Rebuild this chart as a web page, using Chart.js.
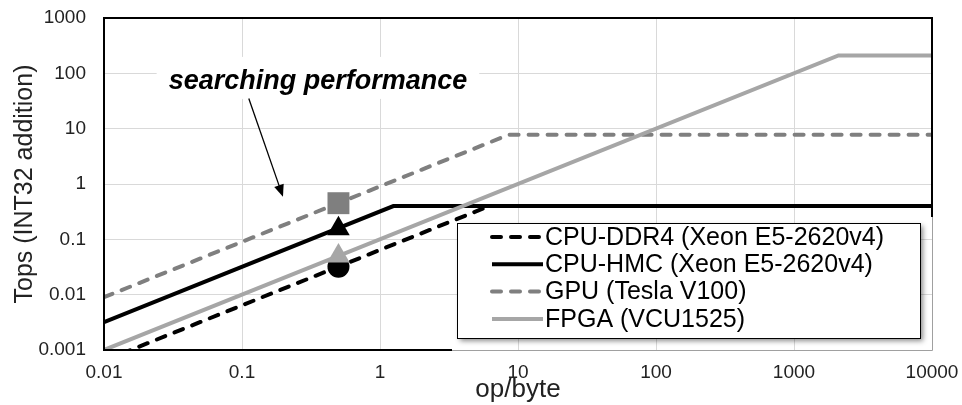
<!DOCTYPE html>
<html>
<head>
<meta charset="utf-8">
<script src="https://cdn.jsdelivr.net/npm/chart.js@4"></script>
<style>
  html, body { margin: 0; padding: 0; background: #fff; }
  #wrap { width: 962px; height: 405px; }
</style>
</head>
<body>
<div id="wrap"><canvas id="chart"></canvas></div>
<script>
'use strict';

const xTicks = [0.01, 0.1, 1, 10, 100, 1000, 10000];
const xTickLabels = ['0.01', '0.1', '1', '10', '100', '1000', '10000'];
const yTicks = [0.001, 0.01, 0.1, 1, 10, 100, 1000];
const yTickLabels = ['0.001', '0.01', '0.1', '1', '10', '100', '1000'];

const seriesNames = ['CPU-DDR4 (Xeon E5-2620v4)', 'CPU-HMC (Xeon E5-2620v4)', 'GPU (Tesla V100)', 'FPGA (VCU1525)'];
// roofline corners: op/byte -> Tops
const ddr4X = [0.01, 6.2, 10000];
const ddr4Y = [0.00064, 0.4, 0.4];
const hmcX = [0.01, 1.25, 10000];
const hmcY = [0.0032, 0.4, 0.4];
const gpuX = [0.01, 8.6, 10000];
const gpuY = [0.009, 7.8, 7.8];
const fpgaX = [0.01, 2100, 10000];
const fpgaY = [0.001, 210, 210];
// measured searching performance (ddr4, hmc, gpu, fpga)
const searchX = 0.5;
const searchY = [0.032, 0.155, 0.45, 0.05];

const noteText = 'searching performance';
const notePos = { x: 0.355, y: 70 };
const arrowFrom = { x: 0.112, y: 35 };
const arrowTo = { x: 0.198, y: 0.59 };

const FONT = '"Liberation Sans", Arial, sans-serif';
const canvasElem = document.getElementById('chart');

function pts(xs, ys) {
    const out = [];
    for (let i = 0; i < xs.length; i++) out.push({ x: xs[i], y: ys[i] });
    return out;
}

function lineSet(i, xs, ys, color, dash, order) {
    return {
        label: seriesNames[i],
        data: pts(xs, ys),
        borderColor: color,
        backgroundColor: color,
        borderWidth: 4,
        borderDash: dash,
        borderCapStyle: dash.length ? 'round' : 'butt',
        borderJoinStyle: 'miter',
        pointRadius: 0,
        tension: 0,
        order: order
    };
}

function markerSet(y, color, style, radius, order) {
    return {
        label: '',
        data: [{ x: searchX, y: y }],
        showLine: false,
        pointStyle: style,
        pointRadius: radius,
        pointBackgroundColor: color,
        pointBorderColor: color,
        pointBorderWidth: 0,
        order: order
    };
}

// plot frame: black, but the lower right part is overdrawn thin gray like the original
const framePlugin = {
    id: 'frame',
    afterDatasetsDraw(chart) {
        const { ctx, chartArea: a } = chart;
        ctx.save();
        ctx.strokeStyle = '#000';
        ctx.lineWidth = 2;
        ctx.beginPath();
        ctx.moveTo(a.right, a.bottom - 133);
        ctx.lineTo(a.right, a.top);
        ctx.lineTo(a.left, a.top);
        ctx.lineTo(a.left, a.bottom);
        ctx.lineTo(a.right - 480, a.bottom);
        ctx.stroke();
        ctx.strokeStyle = '#a0a0a0';
        ctx.lineWidth = 1;
        ctx.beginPath();
        ctx.moveTo(a.right - 480, a.bottom + 0.5);
        ctx.lineTo(a.right + 0.5, a.bottom + 0.5);
        ctx.lineTo(a.right + 0.5, a.bottom - 133);
        ctx.stroke();
        ctx.restore();
    }
};

// annotation text + arrow
const notePlugin = {
    id: 'note',
    afterDatasetsDraw(chart) {
        const { ctx, scales } = chart;
        const tx = scales.x.getPixelForValue(notePos.x);
        const ty = scales.y.getPixelForValue(notePos.y);
        ctx.save();
        ctx.font = 'italic bold 27px ' + FONT;
        const w = ctx.measureText(noteText).width;
        ctx.fillStyle = '#fff';
        ctx.fillRect(tx - w / 2 - 12, ty - 25, w + 24, 42);
        ctx.fillStyle = '#000';
        ctx.textAlign = 'center';
        ctx.textBaseline = 'middle';
        ctx.fillText(noteText, tx, ty);

        const x1 = scales.x.getPixelForValue(arrowFrom.x), y1 = scales.y.getPixelForValue(arrowFrom.y);
        const x2 = scales.x.getPixelForValue(arrowTo.x), y2 = scales.y.getPixelForValue(arrowTo.y);
        const ang = Math.atan2(y2 - y1, x2 - x1);
        ctx.strokeStyle = '#000';
        ctx.lineWidth = 1.3;
        ctx.beginPath();
        ctx.moveTo(x1, y1);
        ctx.lineTo(x2 - 8 * Math.cos(ang), y2 - 8 * Math.sin(ang));
        ctx.stroke();
        ctx.beginPath();
        ctx.moveTo(x2, y2);
        ctx.lineTo(x2 - 12 * Math.cos(ang) + 5 * Math.sin(ang), y2 - 12 * Math.sin(ang) - 5 * Math.cos(ang));
        ctx.lineTo(x2 - 12 * Math.cos(ang) - 5 * Math.sin(ang), y2 - 12 * Math.sin(ang) + 5 * Math.cos(ang));
        ctx.closePath();
        ctx.fill();
        ctx.restore();
    }
};

// boxed legend inside the plot, lower right
const legendPlugin = {
    id: 'boxLegend',
    afterDraw(chart) {
        const { ctx, chartArea: a } = chart;
        const bx = a.right - 475, by = a.bottom - 127, bw = 463, bh = 115;
        ctx.save();
        ctx.shadowColor = 'rgba(0,0,0,0.45)';
        ctx.shadowBlur = 5;
        ctx.shadowOffsetX = 3;
        ctx.shadowOffsetY = 3;
        ctx.fillStyle = '#fff';
        ctx.fillRect(bx, by, bw, bh);
        ctx.shadowColor = 'transparent';
        ctx.strokeStyle = '#000';
        ctx.lineWidth = 1;
        ctx.strokeRect(bx + 0.5, by + 0.5, bw, bh);
        ctx.font = '25px ' + FONT;
        ctx.textBaseline = 'middle';
        for (let i = 0; i < seriesNames.length; i++) {
            const ds = chart.data.datasets[i];
            const y = by + 14 + i * 27.3;
            ctx.strokeStyle = ds.borderColor;
            ctx.lineWidth = 4;
            ctx.lineCap = ds.borderCapStyle;
            ctx.setLineDash(ds.borderDash);
            ctx.beginPath();
            ctx.moveTo(bx + 35, y);
            ctx.lineTo(bx + 86, y);
            ctx.stroke();
            ctx.setLineDash([]);
            ctx.fillStyle = '#000';
            ctx.fillText(ds.label, bx + 88, y + 1);
        }
        ctx.restore();
    }
};

const chart = new Chart(canvasElem, {
    type: 'line',
    data: {
        datasets: [
            lineSet(0, ddr4X, ddr4Y, '#000000', [9, 10], 9),
            lineSet(1, hmcX, hmcY, '#000000', [], 7),
            lineSet(2, gpuX, gpuY, '#7f7f7f', [9, 10], 8),
            lineSet(3, fpgaX, fpgaY, '#a6a6a6', [], 6),
            markerSet(searchY[0], '#000000', 'circle', 11, 4),
            markerSet(searchY[1], '#000000', 'triangle', 13, 2),
            markerSet(searchY[2], '#7f7f7f', 'rect', 15.5, 2),
            markerSet(searchY[3], '#a6a6a6', 'triangle', 13, 3)
        ]
    },
    options: {
        responsive: true,
        maintainAspectRatio: false,
        animation: false,
        layout: { padding: { top: 18, right: 30, left: 0, bottom: 0 } },
        plugins: { legend: { display: false }, tooltip: { enabled: false } },
        scales: {
            x: {
                type: 'logarithmic',
                min: 0.01,
                max: 10000,
                afterBuildTicks: s => { s.ticks = xTicks.map(v => ({ value: v })); },
                afterFit: s => { s.height = 55; s.paddingLeft = 0; s.paddingRight = 0; },
                ticks: {
                    callback: (v, i) => xTickLabels[i],
                    font: { family: FONT, size: 19 },
                    color: '#222',
                    padding: 11,
                    maxRotation: 0,
                    autoSkip: false
                },
                grid: { color: '#d9d9d9', lineWidth: 1, drawTicks: false },
                border: { display: false },
                title: { display: true, text: 'op/byte', font: { family: FONT, size: 26 }, color: '#222', padding: 0 }
            },
            y: {
                type: 'logarithmic',
                min: 0.001,
                max: 1000,
                afterBuildTicks: s => { s.ticks = yTicks.map(v => ({ value: v })); },
                afterFit: s => { s.width = 104; s.paddingTop = 0; s.paddingBottom = 0; },
                ticks: {
                    callback: (v, i) => yTickLabels[i],
                    font: { family: FONT, size: 19 },
                    color: '#222',
                    padding: 18,
                    autoSkip: false
                },
                grid: { color: '#d9d9d9', lineWidth: 1, drawTicks: false },
                border: { display: false },
                title: { display: true, text: 'Tops (INT32 addition)', font: { family: FONT, size: 25 }, color: '#222', padding: { top: 10 } }
            }
        }
    },
    plugins: [notePlugin, framePlugin, legendPlugin]
});
</script>
</body>
</html>
